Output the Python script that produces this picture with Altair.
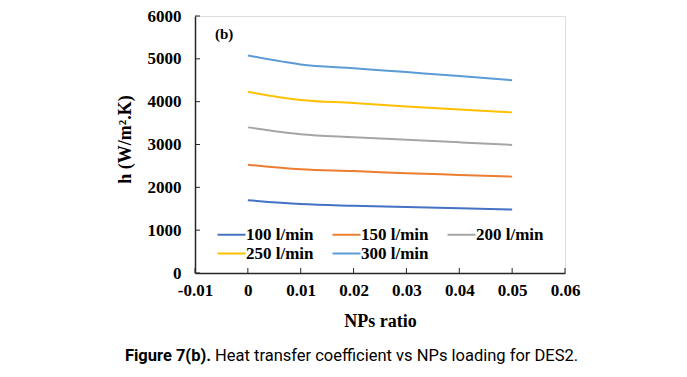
import altair as alt
import pandas as pd

# ---- data ----
ratios = [0.0, 0.01, 0.02, 0.03, 0.04, 0.05]
series_names = ["100 l/min", "150 l/min", "200 l/min", "250 l/min", "300 l/min"]
h_100 = [1700, 1610, 1570, 1540, 1510, 1480]
h_150 = [2530, 2420, 2380, 2330, 2290, 2250]
h_200 = [3400, 3240, 3170, 3110, 3050, 2990]
h_250 = [4230, 4040, 3970, 3890, 3820, 3750]
h_300 = [5080, 4870, 4780, 4690, 4600, 4500]
colors = ["#4472C4", "#ED7D31", "#A5A5A5", "#FFC000", "#5B9BD5"]
x_ticks = [-0.01, 0.0, 0.01, 0.02, 0.03, 0.04, 0.05, 0.06]
y_ticks = [0, 1000, 2000, 3000, 4000, 5000, 6000]

rows = []
for name, vals in zip(series_names, [h_100, h_150, h_200, h_250, h_300]):
    for r, v in zip(ratios, vals):
        rows.append({"ratio": r, "h": v, "series": name})
df = pd.DataFrame(rows)

W, H = 370, 257
SERIF = "Liberation Serif"
AX = "#262626"

xscale = alt.Scale(domain=[-0.01, 0.06], nice=False, zero=False)
yscale = alt.Scale(domain=[0, 6000], nice=False)

lines = alt.Chart(df).mark_line(interpolate="monotone", strokeWidth=2).encode(
    x=alt.X("ratio:Q", scale=xscale,
            axis=alt.Axis(values=x_ticks, title="NPs ratio", grid=False, ticks=False, tickSize=0,
                          labelExpr="datum.value == 0 ? '0' : replace(format(datum.value, '.2f'), '−', '-')",
                          labelFont=SERIF, labelFontWeight="bold", labelFontSize=17, labelColor="black",
                          labelPadding=9, labelFlush=False,
                          titleFont=SERIF, titleFontWeight="bold", titleFontSize=18, titleColor="black",
                          titleX=W / 2, titleY=48, titleBaseline="middle", titleAlign="center",
                          domainColor=AX, domainWidth=1.5)),
    y=alt.Y("h:Q", scale=yscale,
            axis=alt.Axis(values=y_ticks, title="h (W/m².K)", grid=False, ticks=False, tickSize=0,
                          format="d", labelFont=SERIF, labelFontWeight="bold", labelFontSize=17,
                          labelColor="black", labelPadding=14, labelFlush=False,
                          titleFont=SERIF, titleFontWeight="bold", titleFontSize=18, titleColor="black",
                          titleX=-70, titleY=123, titleAngle=270, titleBaseline="middle", titleAlign="center",
                          domainColor=AX, domainWidth=1.5)),
    color=alt.Color("series:N", scale=alt.Scale(domain=series_names, range=colors),
                    sort=series_names,
                    legend=alt.Legend(title=None, orient="none", legendX=28, legendY=210, columns=3,
                                      direction="horizontal", symbolType="M-2.8,0H2.8", symbolSize=100,
                                      symbolStrokeWidth=2, labelFont=SERIF, labelFontWeight="bold",
                                      labelFontSize=17, labelColor="black", labelOffset=6,
                                      columnPadding=14, rowPadding=1, padding=0, gridAlign="each")),
)

ytick_df = pd.DataFrame({"v": y_ticks})
xtick_df = pd.DataFrame({"v": x_ticks})
yticks = alt.Chart(ytick_df).mark_rule(color=AX, strokeWidth=1).encode(
    y=alt.Y("v:Q", scale=yscale), x=alt.value(0), x2=alt.value(5))
xticks = alt.Chart(xtick_df).mark_rule(color=AX, strokeWidth=1).encode(
    x=alt.X("v:Q", scale=xscale), y=alt.value(H), y2=alt.value(H - 5))

panel = alt.Chart(pd.DataFrame({"t": ["(b)"]})).mark_text(
    font=SERIF, fontWeight="bold", fontSize=15, align="left", baseline="middle", color="black"
).encode(x=alt.value(20), y=alt.value(18), text="t:N")

cap_bold = alt.Chart(pd.DataFrame({"t": ["Figure 7(b)."]})).mark_text(
    font="Roboto", fontWeight="bold", fontSize=16.5, align="right", baseline="alphabetic", color="black"
).encode(x=alt.value(16), y=alt.value(345), text="t:N")
cap_reg = alt.Chart(pd.DataFrame({"t": ["Heat transfer coefficient vs NPs loading for DES2."]})).mark_text(
    font="Roboto", fontSize=16.5, align="left", baseline="alphabetic", color="black"
).encode(x=alt.value(20), y=alt.value(345), text="t:N")

chart = alt.layer(lines, yticks, xticks, panel, cap_bold, cap_reg).properties(
    width=W, height=H,
    autosize=alt.AutoSizeParams(type="none"),
    padding={"left": 187, "top": 8, "right": 110, "bottom": 96},
).configure_view(stroke=None).configure(background="white")

chart.save("out.html", embed_options={"renderer": "svg", "actions": False})
